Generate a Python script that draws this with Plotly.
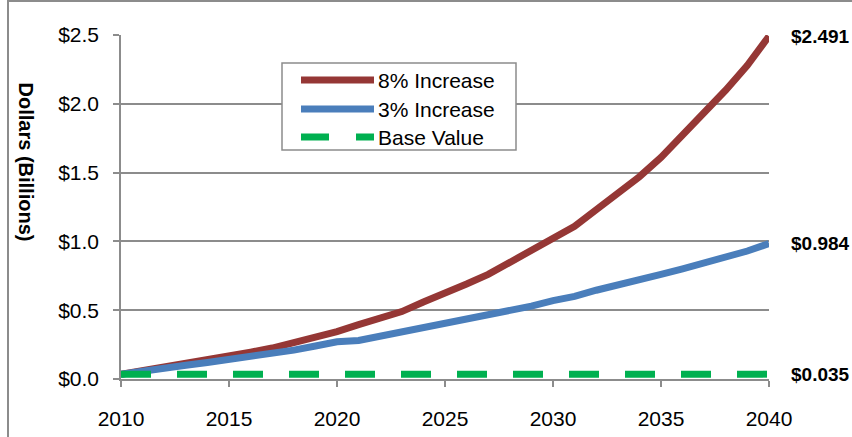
import plotly.graph_objects as go

# Annual values, billions of dollars
years = list(range(2010, 2041))
increase_8 = [0.035, 0.06, 0.085, 0.11, 0.14, 0.165, 0.195, 0.225, 0.265, 0.30,
              0.345, 0.395, 0.44, 0.49, 0.56, 0.62, 0.69, 0.76, 0.85, 0.93,
              1.02, 1.11, 1.23, 1.35, 1.47, 1.61, 1.77, 1.93, 2.10, 2.28, 2.491]
increase_3 = [0.035, 0.06, 0.08, 0.10, 0.12, 0.14, 0.17, 0.19, 0.21, 0.24,
              0.27, 0.28, 0.31, 0.34, 0.37, 0.40, 0.44, 0.47, 0.50, 0.53,
              0.57, 0.60, 0.645, 0.68, 0.72, 0.76, 0.80, 0.84, 0.88, 0.93, 0.984]
base_value = [0.035] * len(years)

series = [
    ("8% Increase", increase_8, "#953735", "solid"),
    ("3% Increase", increase_3, "#4A7EBB", "solid"),
    ("Base Value", base_value, "#00B050", "30px,26px"),
]

FONT = "Liberation Sans, Arial, sans-serif"
GRID = "#8C8C8C"

fig = go.Figure()
for name, vals, color, dash in series:
    fig.add_trace(go.Scatter(
        x=years, y=vals, mode="lines", name=name,
        line=dict(color=color, width=7, dash=dash),
        showlegend=False,
    ))

# End-of-series value labels
for name, vals, color, dash in series:
    fig.add_annotation(
        x=years[-1], y=vals[-1], xref="x", yref="y",
        text=f"${vals[-1]:.3f}", showarrow=False,
        xanchor="left", yanchor="middle", xshift=20,
        font=dict(family=FONT, size=19, color="black", weight="bold"),
    )

# Y axis title
fig.add_annotation(
    x=-0.147, y=0.63, xref="paper", yref="paper",
    text="<b>Dollars (Billions)</b>", showarrow=False, textangle=90,
    font=dict(family=FONT, size=20, color="black"),
    xanchor="center", yanchor="middle",
)

# Legend box
lx0, lx1 = 161, 395   # pixel offsets from plot left edge
ly0, ly1 = 316, 229   # pixel offsets from plot bottom edge
W, H = 648, 344
fig.add_shape(type="rect", xref="paper", yref="paper",
              x0=lx0 / W, x1=lx1 / W, y0=ly1 / H, y1=ly0 / H,
              line=dict(color=GRID, width=1.5), fillcolor="white", layer="above")
row_y = [299, 270, 242]
for (name, vals, color, dash), ry in zip(series, row_y):
    fig.add_shape(type="line", xref="paper", yref="paper",
                  x0=180 / W, x1=253 / W, y0=ry / H, y1=ry / H,
                  line=dict(color=color, width=7,
                            dash="28px,27px" if dash != "solid" else "solid"),
                  layer="above")
    fig.add_annotation(x=255 / W, y=ry / H, xref="paper", yref="paper",
                       text=name, showarrow=False, xanchor="left", yanchor="middle",
                       font=dict(family=FONT, size=21, color="black"))

# Outer chart frame
fig.add_shape(type="rect", xref="paper", yref="paper",
              x0=-113 / W, x1=1.5, y0=-0.5, y1=378 / H,
              line=dict(color=GRID, width=2), fillcolor="rgba(0,0,0,0)", layer="below")

fig.update_layout(
    width=852, height=437,
    margin=dict(l=121, r=83, t=35, b=58, autoexpand=False),
    paper_bgcolor="white", plot_bgcolor="white",
    font=dict(family=FONT, size=21, color="black"),
    showlegend=False,
)
fig.update_xaxes(
    range=[2010, 2040], tickmode="linear", tick0=2010, dtick=5,
    showgrid=False, showline=True, linecolor=GRID, linewidth=1.5,
    ticks="outside", ticklen=6, tickcolor=GRID, tickwidth=1.5,
    ticklabelstandoff=14, automargin=False,
    tickfont=dict(family=FONT, size=21), zeroline=False,
)
fig.update_yaxes(
    range=[0, 2.5], tickmode="linear", tick0=0, dtick=0.5,
    tickformat="$.1f", showgrid=True, gridcolor=GRID, gridwidth=1.5,
    showline=True, linecolor=GRID, linewidth=1.5,
    ticks="outside", ticklen=6, tickcolor=GRID, tickwidth=1.5,
    ticklabelstandoff=10, automargin=False,
    tickfont=dict(family=FONT, size=21), zeroline=False,
)

fig.write_html("out.html")
